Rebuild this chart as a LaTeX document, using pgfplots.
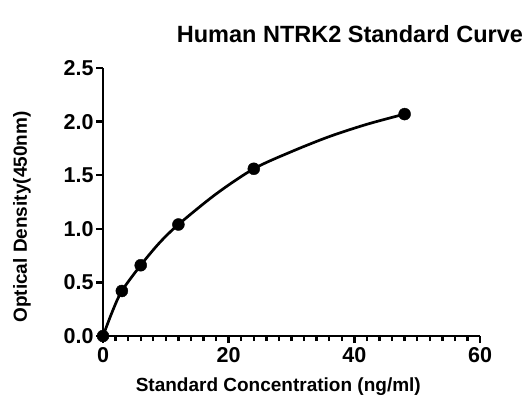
\documentclass[border=0pt]{standalone}
\usepackage{fontspec}
\setmainfont{Liberation Sans}
\usepackage{pgfplots}
\pgfplotsset{compat=1.18}
\begin{document}
\begin{tikzpicture}[x=1pt,y=1pt]
\path[use as bounding box] (0,0) rectangle (529,405);
\begin{axis}[
  at={(103pt,69pt)}, anchor=south west,
  scale only axis, width=377pt, height=268pt,
  xmin=0, xmax=60, ymin=0, ymax=2.5,
  axis lines=left, axis line style={-, line width=2.8pt},
  xtick={0,20,40,60}, minor x tick num=9,
  ytick={0,0.5,1,1.5,2,2.5},
  yticklabel style={xshift=1pt, /pgf/number format/.cd, fixed, fixed zerofill, precision=1},
  /pgf/number format/assume math mode=true,
  tick align=outside,
  major tick length=7pt, minor tick length=5pt,
  every tick/.style={black, line width=2.4pt},
  tick label style={font=\bfseries\fontsize{21.5}{21.5}\selectfont},
  xticklabel style={yshift=-1pt},
  clip=false,
  xlabel={Standard Concentration (ng/ml)},
  ylabel={Optical Density(450nm)},
  label style={font=\bfseries\fontsize{19}{19}\selectfont},
  xlabel style={at={(axis description cs:0.465,-0.19)}, anchor=center},
  ylabel style={at={(axis description cs:-0.215,0.444)}, anchor=center},
  title={Human NTRK2 Standard Curve},
  title style={font=\bfseries\fontsize{23.5}{23.5}\selectfont, at={(axis description cs:0.655,1.105)}, anchor=center},
]
% fitted curve
\addplot[black, line width=2.7pt, smooth] coordinates {
  (0,0) (1.5,0.23) (3,0.42) (6,0.66) (9,0.87) (12,1.04) (18,1.325) (24,1.56) (30,1.72) (36,1.86) (42,1.975) (48,2.07)
};
\addplot[only marks, mark=*, mark size=6pt, black] coordinates {
  (0,0) (3,0.42) (6,0.66) (12,1.04) (24,1.56) (48,2.07)
};
\end{axis}
\end{tikzpicture}
\end{document}
